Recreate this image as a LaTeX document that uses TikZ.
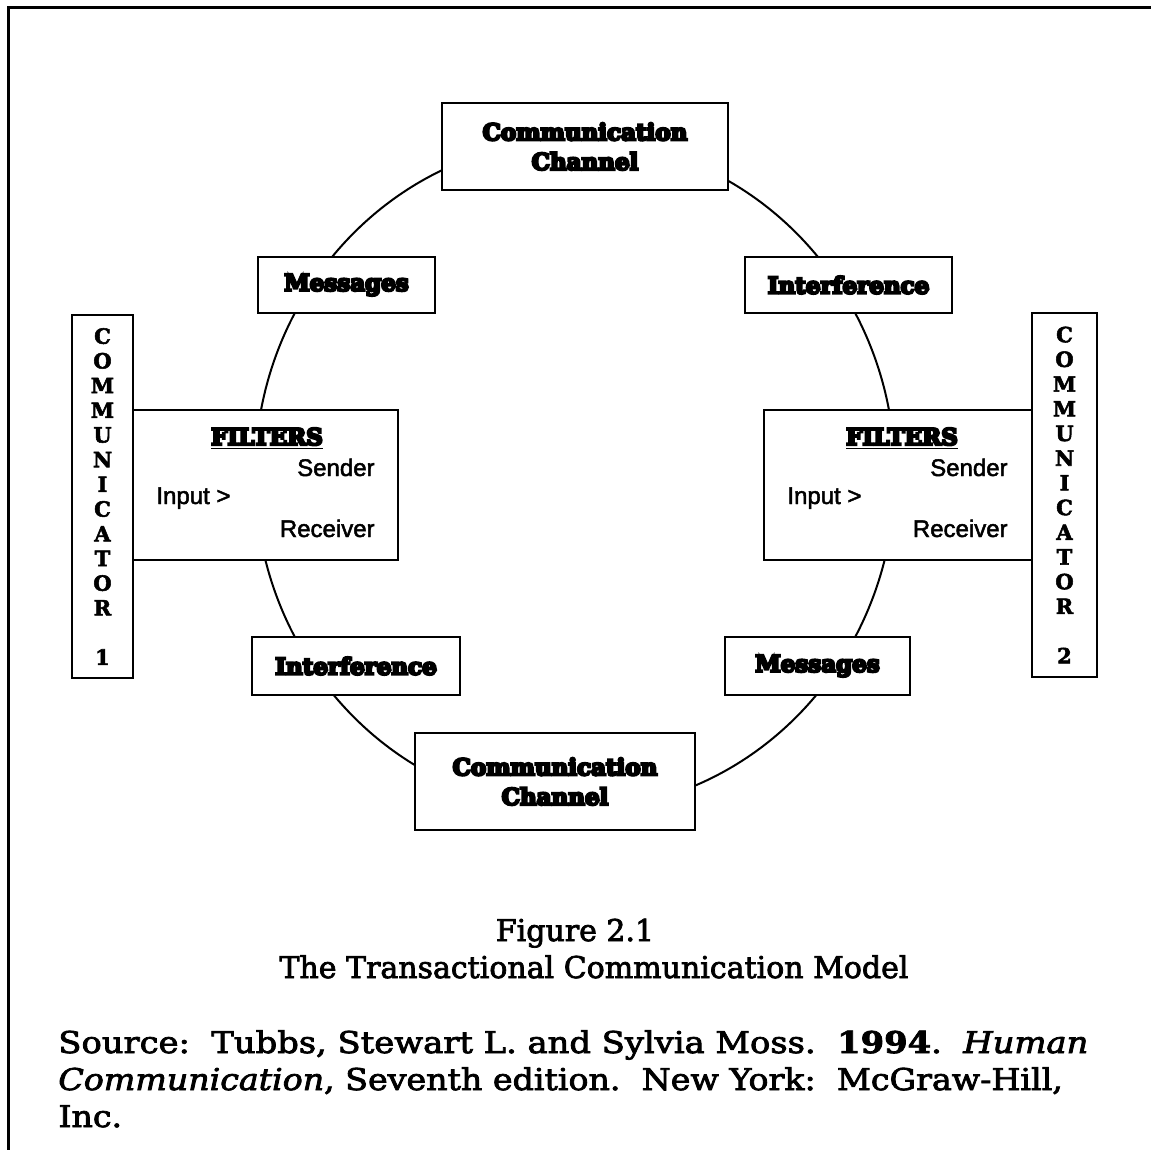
\documentclass[tikz,border=0pt]{standalone}
\usepackage{fontspec}
\setmainfont{DejaVu Serif}
\newfontfamily\labelfont[FakeBold=10]{DejaVu Serif Bold}
\newfontfamily\letterfont[FakeBold=2.5]{DejaVu Serif Bold}
\newfontfamily\filterfont[FakeBold=2]{Liberation Sans}
\newfontfamily\captionfont[FakeBold=2.5,ItalicFeatures={FakeBold=2.5}]{DejaVu Serif}
\begin{document}
\begin{tikzpicture}[x=0.5pt,y=-0.5pt,
  box/.style={draw, line width=1.1pt, fill=white, inner sep=0pt},
  heavy/.style={font=\labelfont\fontsize{11.5}{14.8}\selectfont, align=center},
  vertbox/.style={box, font=\letterfont\fontsize{10.5}{12.35}\selectfont, align=center},
  filtertxt/.style={font=\filterfont\fontsize{12}{14}\selectfont, inner sep=0pt},
  caption/.style={font=\captionfont\fontsize{15}{18.5}\selectfont, inner sep=0pt}]
\useasboundingbox (0,0) rectangle (1151,1150);

% page frame (left and top edges)
\draw[line width=1.5pt] (8,1150) -- (8,8) -- (1151,8);

% the ring joining all stages
\draw[line width=1pt] (575,475) ellipse [x radius=160pt, y radius=167.5pt];

% channel boxes
\node[box, heavy, minimum width=143pt, minimum height=43.5pt] (cctop) at (585,146.5) {Communication\\Channel};
\node[box, heavy, minimum width=140pt, minimum height=48.5pt] (ccbot) at (555,781.5) {Communication\\Channel};

% messages / interference boxes
\node[box, heavy, minimum width=88.5pt, minimum height=28pt] (msgtl) at (346.5,285) {Messages};
\node[box, heavy, minimum width=103.5pt, minimum height=28pt] (inttr) at (848.5,285) {Interference};
\node[box, heavy, minimum width=104pt, minimum height=29pt] (intbl) at (356,666) {Interference};
\node[box, heavy, minimum width=92.5pt, minimum height=29pt] (msgbr) at (817.5,666) {Messages};

% communicators
\node[vertbox, minimum width=30.5pt, minimum height=181.5pt] (com1) at (102.5,496.5)
  {C\\O\\M\\M\\U\\N\\I\\C\\A\\T\\O\\R\\[12.35pt]1};
\node[vertbox, minimum width=32.5pt, minimum height=182pt] (com2) at (1064.5,495)
  {C\\O\\M\\M\\U\\N\\I\\C\\A\\T\\O\\R\\[12.35pt]2};

% filter boxes
\node[box, minimum width=132.5pt, minimum height=75pt] (fill) at (265.5,485) {};
\node[box, minimum width=134pt, minimum height=75pt] (filr) at (898,485) {};

\node[heavy, anchor=base] (fill-t) at (267,445) {\underline{FILTERS}};
\node[filtertxt, anchor=base east] (fill-s) at (375,476) {Sender};
\node[filtertxt, anchor=base west] (fill-i) at (156,504) {Input >};
\node[filtertxt, anchor=base east] (fill-r) at (375,537) {Receiver};

\node[heavy, anchor=base] (filr-t) at (902,445) {\underline{FILTERS}};
\node[filtertxt, anchor=base east] (filr-s) at (1008,476) {Sender};
\node[filtertxt, anchor=base west] (filr-i) at (787,504) {Input >};
\node[filtertxt, anchor=base east] (filr-r) at (1008,537) {Receiver};

% caption and source
\node[caption, anchor=base] (fig) at (575,941) {Figure 2.1};
\node[caption, anchor=base] (title) at (594,978) {The Transactional Communication Model};
\node[caption, anchor=base west] (src1) at (58,1053)
  {\scalebox{1.125}[1]{Source:\ \ Tubbs, Stewart L. and Sylvia Moss.\ \ \textbf{1994}.\ \ \textit{Human}}};
\node[caption, anchor=base west] (src2) at (58,1090)
  {\scalebox{1.108}[1]{\textit{Communication}, Seventh edition.\ \ New York:\ \ McGraw-Hill,}};
\node[caption, anchor=base west] (src3) at (58,1127) {\scalebox{1.108}[1]{Inc.}};
\end{tikzpicture}
\end{document}
